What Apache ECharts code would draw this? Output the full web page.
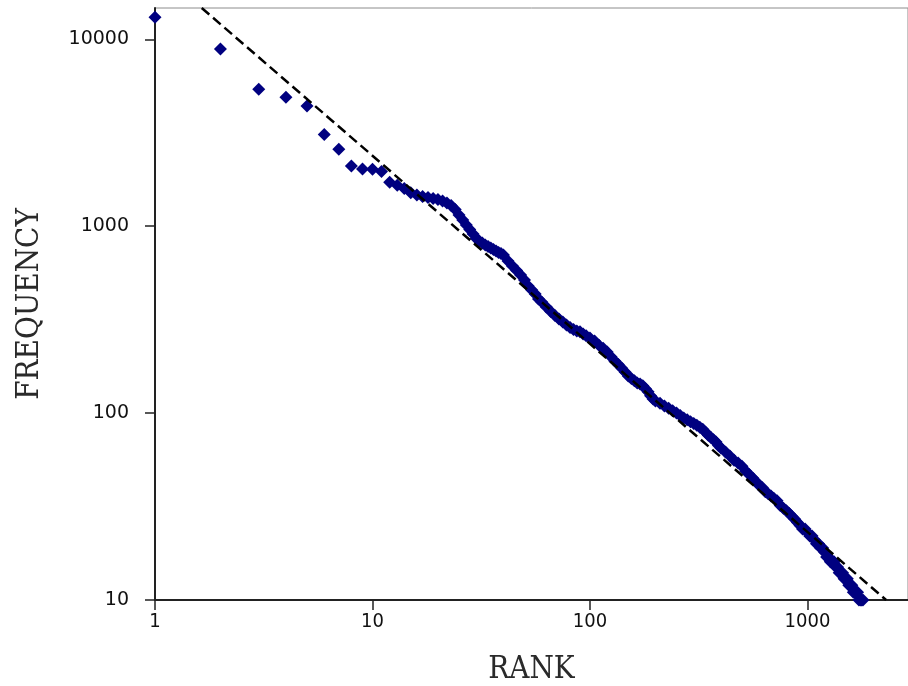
<!DOCTYPE html>
<html>
<head>
<meta charset="utf-8">
<script src="https://cdn.jsdelivr.net/npm/echarts@6/dist/echarts.min.js"></script>
<style>html,body{margin:0;padding:0;background:#fff}#c{width:908px;height:686px}</style>
</head>
<body>
<div id="c"></div>
<script>
// Rank-frequency data (log-log)
var ranks = [1,2,3,4,5,6,7,8,9,10,11,12,13,14,15,16,17,18,19,20,21,22,23,24,25,26,27,28,29,30,31,32,33,34,35,36,37,38,39,40,
  42,44,46,48,50,52,54,56,58,60,63,66,69,72,75,78,81,84,87,90,93,96,100,
  105,110,115,120,125,130,135,140,145,150,155,160,165,170,175,180,185,190,195,200,
  210,220,230,240,250,260,270,280,290,300,310,320,330,340,350,360,370,380,390,400,
  420,440,460,480,500,520,540,560,580,600,620,640,660,680,700,
  725,750,775,800,825,850,875,900,925,950,975,1000,1025,1050,1075,1100,1125,1150,1175,1200,
  1225,1250,1275,1300,1325,1350,1375,1400,1425,1450,1475,1500,1525,1550,1575,1600,1625,1650,1675,1700,1725,1750,1775,1800];
var freqs = [13100,8880,5400,4900,4400,3090,2580,2100,2025,2015,1960,1720,1655,1590,1510,1470,1442,1425,1406,1389,1364,1331,1291,1228,1148,1080,1014,960,908,859,833,813,793,779,764,750,736,723,714,701,
  651,612,579,548,515,479,456,434,408,393,369,350,333,319,307,296,287,280,275,272,265,259,252,
  243,231,222,212,200,190,182,174,166,158,153,149,145,143,140,135,130,124,119,116,
  113,109,106,103,100,97,94,92,90,88,86,84,82,79,76,74,72,70,67,65,
  62,59,56,54,52,49,47,45,43,41,40,38,37,36,35,
  34,32,31,30,29,28,27,26,25,24,24,23,22,22,21,20,20,19,19,18,
  17,17,16,16,16,15,15,14,14,14,13,13,13,12,12,12,11,11,11,11,10,10,10,10];
// Fitted power-law reference line (end points)
var fitRanks = [1.64, 2300];
var fitFreqs = [14700, 10];
// Tick labels
var xTicks = [1, 10, 100, 1000];
var yTicks = [10, 100, 1000, 10000];

function isDecade(v){ var l = Math.log10(v); return Math.abs(l - Math.round(l)) < 1e-6; }

var pts = ranks.map(function(r, i){ return [r, freqs[i]]; });
var fit = fitRanks.map(function(r, i){ return [r, fitFreqs[i]]; });

var nameFont = '"DejaVu Serif Condensed", "DejaVu Serif", serif';

var chart = echarts.init(document.getElementById('c'), null, {renderer: 'canvas'});
chart.setOption({
  animation: false,
  backgroundColor: '#ffffff',
  grid: { left: 155, right: 0, top: 8, bottom: 86, containLabel: false, outerBoundsMode: 'none',
    show: true, borderColor: '#8c8c8c', borderWidth: 1, backgroundColor: 'transparent' },
  xAxis: {
    type: 'log', logBase: 10, min: 1, max: 2900,
    name: 'RANK', nameLocation: 'middle', nameGap: 54,
    nameTextStyle: { fontFamily: nameFont, fontSize: 31, color: '#2a2a2a' },
    axisLine: { show: true, onZero: false, lineStyle: { color: '#222', width: 2 } },
    axisTick: { show: true, inside: false, length: 10, lineStyle: { color: '#222', width: 1.5 }, customValues: xTicks },
    minorTick: { show: false },
    splitLine: { show: false },
    axisLabel: { margin: 12, fontFamily: '"DejaVu Sans Condensed", "DejaVu Sans", sans-serif', fontSize: 20, color: '#111', customValues: xTicks,
      formatter: function(v){ return isDecade(v) ? String(Math.round(v)) : ''; } }
  },
  yAxis: {
    type: 'log', logBase: 10, min: 10, max: 14700,
    name: 'FREQUENCY', nameLocation: 'middle', nameGap: 110,
    nameTextStyle: { fontFamily: nameFont, fontSize: 31, color: '#2a2a2a' },
    axisLine: { show: true, onZero: false, lineStyle: { color: '#222', width: 2 } },
    axisTick: { show: true, inside: false, length: 10, lineStyle: { color: '#222', width: 1.5 }, customValues: yTicks },
    minorTick: { show: false },
    splitLine: { show: false },
    axisLabel: { margin: 26, fontFamily: '"DejaVu Sans", sans-serif', fontSize: 19, color: '#111', customValues: yTicks,
      formatter: function(v){ return isDecade(v) ? String(Math.round(v)) : ''; } }
  },
  series: [
    { type: 'scatter', data: pts, symbol: 'diamond', symbolSize: 13, clip: false,
      itemStyle: { color: '#000080', opacity: 1 }, z: 2 },
    { type: 'line', data: fit, showSymbol: false, symbol: 'none',
      lineStyle: { color: '#000', width: 2.5, type: [10, 5] }, z: 3 }
  ]
});
</script>
</body>
</html>
